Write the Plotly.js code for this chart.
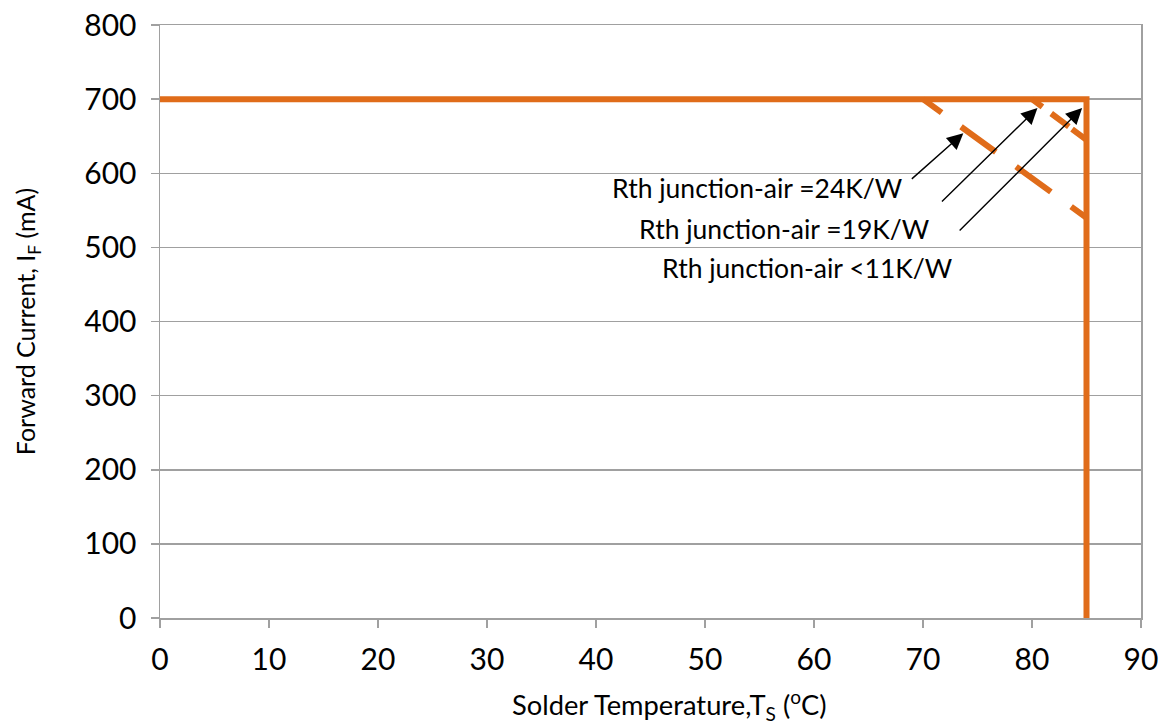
<!DOCTYPE html>
<html><head><meta charset="utf-8">
<script src="https://cdn.plot.ly/plotly-3.0.1.min.js"></script>
<style>html,body{margin:0;padding:0;background:#fff}#chart{width:1169px;height:727px}</style>
</head><body><div id="chart"></div>
<script>
// Data
const limitTemp = [0, 85, 85];
const limitCurrent = [700, 700, 0];
const rth24Temp = [70, 85];
const rth24Current = [700, 540];
const rth19Temp = [80, 85];
const rth19Current = [700, 645];
const labels = ["Rth junction-air =24K/W", "Rth junction-air =19K/W", "Rth junction-air <11K/W"];
const xTicks = [0,10,20,30,40,50,60,70,80,90];
const yTicks = [0,100,200,300,400,500,600,700,800];
const xTitle = 'Solder Temperature,T<sub>S</sub> (<sup>o</sup>C)';
const yTitle = 'Forward Current, I<sub>F</sub> (mA)';

const orange = 'rgb(224,108,26)';
const font = 'Lato, "Open Sans", sans-serif';

const traces = [
  {x: rth24Temp, y: rth24Current, mode:'lines', line:{color:orange, width:6, dash:'23px,24px,43px,25px,43px,25px,60px'}, hoverinfo:'skip'},
  {x: rth19Temp, y: rth19Current, mode:'lines', line:{color:orange, width:6, dash:'13px,11px,22px,4px,40px'}, hoverinfo:'skip'},
  {x: limitTemp, y: limitCurrent, mode:'lines', line:{color:orange, width:6}, hoverinfo:'skip'}
];

const arrowCommon = {showarrow:true, arrowhead:2, arrowsize:2.3, arrowwidth:1.4, arrowcolor:'#000', text:'', xref:'x', yref:'y', axref:'pixel', ayref:'pixel'};
const annotations = [
  Object.assign({}, arrowCommon, {x:73.7, y:654, ax:-53, ay:47}),
  Object.assign({}, arrowCommon, {x:80.5, y:688, ax:-97, ay:95}),
  Object.assign({}, arrowCommon, {x:84.6, y:688, ax:-124, ay:124}),
  {x:54.8, y:580, xref:'x', yref:'y', text:labels[0], showarrow:false, font:{family:font, size:26.5, color:'#000'}},
  {x:57.3, y:525, xref:'x', yref:'y', text:labels[1], showarrow:false, font:{family:font, size:26.5, color:'#000'}},
  {x:59.4, y:472, xref:'x', yref:'y', text:labels[2], showarrow:false, font:{family:font, size:26.5, color:'#000'}},
  {x:0.519, y:-0.147, xref:'paper', yref:'paper', xanchor:'center', yanchor:'middle', text:xTitle, showarrow:false, font:{family:font, size:27.3, color:'#000'}}
];

const layout = {
  width:1169, height:727,
  margin:{l:160, r:28, t:25, b:109},
  paper_bgcolor:'#fff', plot_bgcolor:'#fff',
  showlegend:false,
  font:{family:font, color:'#000'},
  xaxis:{
    range:[0,90], tickvals:xTicks, ticktext:xTicks.map(String),
    showgrid:false, zeroline:false,
    showline:true, linecolor:'#a0a0a0', linewidth:1.5, mirror:true,
    ticks:'outside', ticklen:8, tickcolor:'#a0a0a0', tickwidth:1.5,
    tickfont:{family:font, size:30, color:'#000'},
    ticklabelstandoff:6
  },
  yaxis:{
    range:[0,800], tickvals:yTicks, ticktext:yTicks.map(String),
    showgrid:true, gridcolor:'#a0a0a0', gridwidth:1.5, zeroline:false,
    showline:true, linecolor:'#a0a0a0', linewidth:1.5, mirror:true,
    ticks:'outside', ticklen:8, tickcolor:'#a0a0a0', tickwidth:1.5,
    tickfont:{family:font, size:30, color:'#000'},
    ticklabelstandoff:8,
    title:{text:yTitle, font:{family:font, size:25, color:'#000'}, standoff:41}
  },
  annotations: annotations
};

Plotly.newPlot('chart', traces, layout, {displayModeBar:false, staticPlot:true});
</script>
</body></html>
